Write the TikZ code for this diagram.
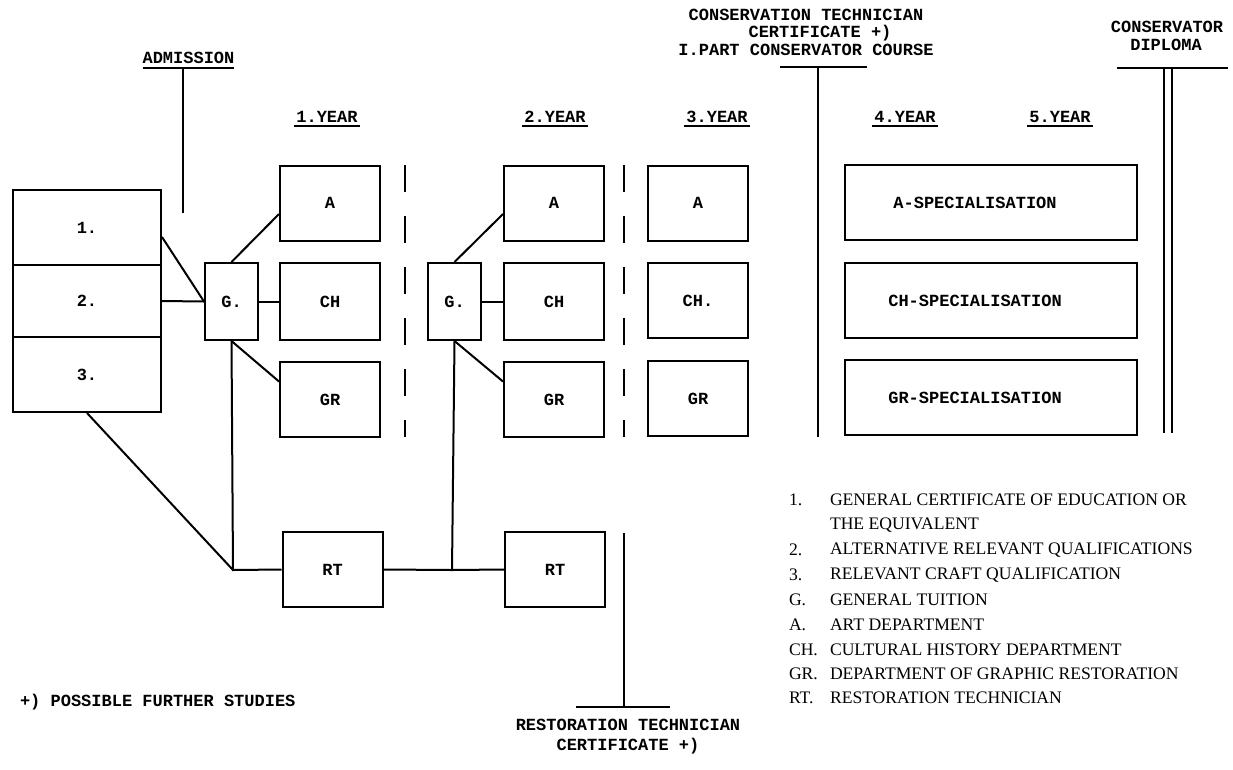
\documentclass[tikz,border=0pt]{standalone}
\usepackage{fontspec}
\setmonofont{Liberation Mono}
\newfontfamily\legfont{Liberation Serif}
\begin{document}
\begin{tikzpicture}[x=1pt,y=-1pt,line width=2pt,
  tt/.style={font=\fontsize{17}{18}\selectfont\ttfamily\bfseries,inner sep=1pt},
  bx/.style={draw,tt,inner sep=0pt,minimum width=100pt,minimum height=75pt},
  gbx/.style={bx,minimum width=53pt,minimum height=77pt},
  sbx/.style={bx,minimum width=292pt,minimum height=75pt},
  lg/.style={font=\fontsize{17.6}{18}\selectfont\legfont,inner sep=0pt,anchor=west},
  dsh/.style={dash pattern=on 27pt off 24pt}]
\useasboundingbox (0,0) rectangle (1233,769);
% left box
\node[bx,minimum width=148pt,minimum height=75pt] (l1) at (87,227.5) {1.};
\node[bx,minimum width=148pt,minimum height=72pt] (l2) at (87,301) {2.};
\node[bx,minimum width=148pt,minimum height=75pt] (l3) at (87,374.5) {3.};
% general tuition
\node[gbx] (g1) at (231.5,301.5) {G.};
\node[gbx] (g2) at (454.5,301.5) {G.};
% year 1
\node[bx] (a1) at (330,203) {A};
\node[bx,minimum height=77pt] (ch1) at (330,301.5) {CH};
\node[bx] (gr1) at (330,399.5) {GR};
% year 2
\node[bx] (a2) at (554,203) {A};
\node[bx,minimum height=77pt] (ch2) at (554,301.5) {CH};
\node[bx] (gr2) at (554,399.5) {GR};
% year 3
\node[bx] (a3) at (698,203) {A};
\node[bx] (ch3) at (698,300.5) {CH.};
\node[bx] (gr3) at (698,398.5) {GR};
% specialisation
\node[sbx] (sa) at (991,202.5) {\hspace*{-32pt}A-SPECIALISATION};
\node[sbx] (sch) at (991,300.5) {\hspace*{-32pt}CH-SPECIALISATION};
\node[sbx] (sgr) at (991,397.5) {\hspace*{-32pt}GR-SPECIALISATION};
% restoration technician
\node[bx] (rt1) at (332.5,569.5) {RT};
\node[bx] (rt2) at (555,569.5) {RT};
% junction coordinates
\coordinate (j1) at (233,570);
\coordinate (j2) at (452,570);
% connectors
\draw ([yshift=-9.5pt]l1.east) -- (g1.west);
\draw (l2.east) -- (g1.west);
\draw (g1.north) -- ([yshift=-11pt]a1.west);
\draw (g1.east) -- (ch1.west);
\draw (g1.south) -- ([yshift=18pt]gr1.west);
\draw (g1.south) -- (j1) -- (rt1.west);
\draw (l3.south) -- (j1);
\draw (rt1.east) -- (j2) -- (rt2.west);
\draw (g2.south) -- (j2);
\draw (g2.north) -- ([yshift=-11pt]a2.west);
\draw (g2.east) -- (ch2.west);
\draw (g2.south) -- ([yshift=18pt]gr2.west);
% dashed separators
\coordinate (d1t) at (405,165); \coordinate (d1b) at (405,437);
\coordinate (d2t) at (624,165); \coordinate (d2b) at (624,437);
\draw[dsh] (d1t) -- (d1b);
\draw[dsh] (d2t) -- (d2b);
% admission
\node[tt] (adm) at (188.5,58) {ADMISSION};
\coordinate (adml) at (143,68); \coordinate (admr) at (234,68);
\coordinate (admb) at (183,213);
\draw (adml) -- (admr);
\draw (183,68) -- (admb);
% years
\node[tt] (y1) at (327,117) {1.YEAR};
\node[tt] (y2) at (555,117) {2.YEAR};
\node[tt] (y3) at (717,117) {3.YEAR};
\node[tt] (y4) at (905,117) {4.YEAR};
\node[tt] (y5) at (1060,117) {5.YEAR};
\foreach \n in {y1,y2,y3,y4,y5}
  \draw ([yshift=-1pt]\n.south west) -- ([yshift=-1pt]\n.south east);
% conservation technician
\node[tt] (ct1) at (806,15) {CONSERVATION TECHNICIAN};
\node[tt] (ct2) at (820,33) {CERTIFICATE +)};
\node[tt] (ct3) at (806,50) {I.PART CONSERVATOR COURSE};
\coordinate (ctl) at (780,67); \coordinate (ctr) at (867,67);
\coordinate (ctb) at (818,437);
\draw (ctl) -- (ctr);
\draw (818,67) -- (ctb);
% conservator diploma
\node[tt] (cd1) at (1167,27) {CONSERVATOR};
\node[tt] (cd2) at (1166,45) {DIPLOMA};
\coordinate (cdl) at (1117,68); \coordinate (cdr) at (1228,68);
\draw (cdl) -- (cdr);
\draw (1164,68) -- (1164,433);
\draw (1172,68) -- (1172,433);
% restoration technician certificate
\coordinate (rtt) at (624,533);
\coordinate (rtl) at (576,707); \coordinate (rtr) at (670,707);
\draw (rtt) -- (624,707);
\draw (rtl) -- (rtr);
\node[tt] (rc1) at (628,725) {RESTORATION TECHNICIAN};
\node[tt] (rc2) at (628,746) {CERTIFICATE +)};
% footnote
\node[tt,anchor=west] (fn) at (18,702) {+) POSSIBLE FURTHER STUDIES};
% legend
\node[lg] (k1) at (788,500) {1.};
\node[lg] (t1) at (829,500) {GENERAL CERTIFICATE OF EDUCATION OR};
\node[lg] (t1b) at (829,525) {THE EQUIVALENT};
\node[lg] (k2) at (788,550) {2.};
\node[lg] (t2) at (829,550) {ALTERNATIVE RELEVANT QUALIFICATIONS};
\node[lg] (k3) at (788,575) {3.};
\node[lg] (t3) at (829,575) {RELEVANT CRAFT QUALIFICATION};
\node[lg] (k4) at (788,600) {G.};
\node[lg] (t4) at (829,600) {GENERAL TUITION};
\node[lg] (k5) at (788,625) {A.};
\node[lg] (t5) at (829,625) {ART DEPARTMENT};
\node[lg] (k6) at (788,650) {CH.};
\node[lg] (t6) at (829,650) {CULTURAL HISTORY DEPARTMENT};
\node[lg] (k7) at (788,674) {GR.};
\node[lg] (t7) at (829,674) {DEPARTMENT OF GRAPHIC RESTORATION};
\node[lg] (k8) at (788,698) {RT.};
\node[lg] (t8) at (829,698) {RESTORATION TECHNICIAN};
\end{tikzpicture}
\end{document}
